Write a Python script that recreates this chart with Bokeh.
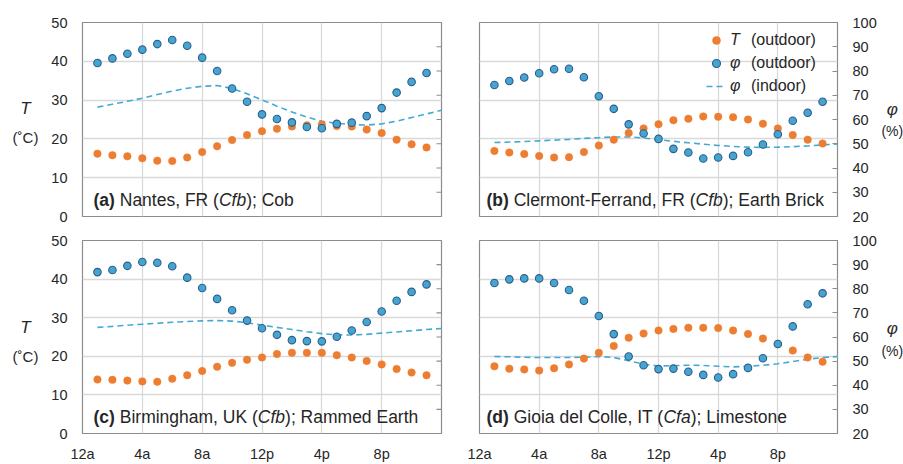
from bokeh.plotting import figure
from bokeh.models import Range1d, LinearAxis, FixedTicker, Label, Legend, LegendItem
from bokeh.core.properties import value
from bokeh.layouts import column, row
from bokeh.embed import file_html
from bokeh.resources import INLINE

# ---------------- data ----------------
hours = [1, 2, 3, 4, 5, 6, 7, 8, 9, 10, 11, 12, 13, 14, 15, 16, 17, 18, 19, 20, 21, 22, 23]
hours_in = [1, 2, 3, 4, 5, 6, 7, 8, 9, 10, 11, 12, 13, 14, 15, 16, 17, 18, 19, 20, 21, 22, 23, 24]

a_T = [16.2, 15.8, 15.5, 15.0, 14.4, 14.3, 15.2, 16.6, 18.1, 19.7, 21.0, 22.0, 22.6, 23.2, 23.5, 23.7,
       23.3, 23.2, 22.4, 21.5, 19.8, 18.6, 17.8]
a_phi = [83.3, 85.2, 87.1, 88.8, 91.1, 92.8, 90.4, 85.5, 80.0, 72.8, 67.3, 62.1, 60.2, 58.8, 56.9, 56.4,
         58.2, 58.7, 61.4, 64.7, 71.1, 75.5, 79.2]
a_phi_in = [65.1, 66.3, 67.5, 68.8, 70.3, 71.7, 72.9, 73.7, 74.0, 72.8, 70.6, 68.1, 65.5, 63.1, 61.0, 59.3,
            58.4, 57.9, 57.7, 58.2, 59.3, 60.8, 62.3, 63.8]

b_T = [16.9, 16.5, 16.1, 15.6, 15.2, 15.3, 16.6, 18.3, 19.8, 21.5, 22.7, 23.8, 24.8, 25.2, 25.8, 25.7,
       25.6, 25.0, 23.9, 22.7, 21.0, 19.8, 18.8]
b_phi = [74.2, 75.9, 77.3, 79.1, 80.7, 80.9, 77.4, 69.6, 64.4, 58.0, 54.2, 52.0, 47.9, 46.4, 43.9, 44.3,
         45.0, 46.5, 49.7, 53.9, 59.5, 62.8, 67.3]
b_phi_in = [50.5, 50.7, 50.9, 51.2, 51.5, 51.8, 52.2, 52.5, 52.8, 52.8, 52.4, 51.7, 51.0, 50.4, 49.8, 49.3,
            48.9, 48.6, 48.5, 48.6, 48.8, 49.1, 49.5, 49.9]

c_T = [14.0, 13.9, 13.7, 13.5, 13.4, 14.2, 15.1, 16.2, 17.3, 18.3, 19.1, 19.7, 20.6, 20.9, 20.9, 20.9,
       20.3, 19.7, 18.8, 17.9, 16.7, 15.8, 15.1]
c_phi = [86.9, 87.8, 89.5, 91.1, 90.8, 89.3, 84.6, 80.3, 75.8, 71.1, 66.8, 63.6, 60.9, 58.7, 58.3, 58.2,
         60.1, 62.7, 66.2, 70.6, 75.0, 78.7, 81.8]
c_phi_in = [64.0, 64.4, 64.9, 65.3, 65.7, 66.1, 66.4, 66.7, 66.8, 66.6, 65.9, 64.9, 64.0, 63.1, 62.2, 61.4,
            60.9, 60.8, 61.1, 61.6, 62.1, 62.6, 63.1, 63.5]

d_T = [17.4, 16.8, 16.6, 16.3, 16.9, 17.9, 19.4, 20.9, 22.7, 24.8, 25.9, 26.7, 27.1, 27.4, 27.4, 27.3,
       26.7, 25.8, 24.6, 23.2, 21.5, 19.7, 18.6]
d_phi = [82.4, 83.9, 84.3, 84.3, 82.4, 79.5, 75.0, 68.7, 61.2, 51.9, 48.3, 46.7, 46.9, 45.6, 44.3, 43.2,
         44.6, 47.2, 51.2, 57.1, 64.4, 73.6, 78.1]
d_phi_in = [51.9, 51.8, 51.6, 51.5, 51.5, 51.5, 51.6, 51.9, 51.5, 50.2, 48.7, 48.0, 48.1, 48.3, 48.2, 47.9,
            47.6, 47.9, 48.3, 48.9, 49.8, 50.8, 51.5, 51.9]

x_ticks = [0, 4, 8, 12, 16, 20]
x_tick_labels = ["12a", "4a", "8a", "12p", "4p", "8p"]
x_grid = [4, 8, 12, 16, 20]
T_ticks = [0, 10, 20, 30, 40, 50]
T_grid = [10, 20, 30, 40]
phi_ticks = [20, 30, 40, 50, 60, 70, 80, 90, 100]

titles = {
    "a": [("(a)", "bold"), (" Nantes, FR (", "normal"), ("Cfb", "italic"), ("); Cob", "normal")],
    "b": [("(b)", "bold"), (" Clermont-Ferrand, FR (", "normal"), ("Cfb", "italic"), ("); Earth Brick", "normal")],
    "c": [("(c)", "bold"), (" Birmingham, UK (", "normal"), ("Cfb", "italic"), ("); Rammed Earth", "normal")],
    "d": [("(d)", "bold"), (" Gioia del Colle, IT (", "normal"), ("Cfa", "italic"), ("); Limestone", "normal")],
}
legend_symbols = ["T", "φ", "φ"]
legend_texts = ["(outdoor)", "(outdoor)", "(indoor)"]
left_title = ["T", "(˚C)"]
right_title = ["φ", "(%)"]

# ---------------- style ----------------
FONT = "Liberation Sans"
ORANGE = "#ED7D31"
BLUE_FILL = "#45A5CE"
BLUE_LINE = "#2C5D8F"
DASH = "#45AAD3"
GRID = "#D9D9D9"
FRAME = "#8C8C8C"
TXT = "#262626"

# Arial / Liberation Sans advance widths (1/1000 em)
W_REG = {" ": 278, "(": 333, ")": 333, ",": 278, "-": 333, ";": 278,
         "B": 667, "C": 722, "E": 667, "F": 611, "G": 778, "I": 278, "K": 667, "L": 556, "N": 722,
         "R": 722, "T": 611, "U": 722,
         "a": 556, "b": 556, "c": 500, "d": 556, "e": 556, "f": 278, "g": 556, "h": 556, "i": 222,
         "k": 500, "l": 222, "m": 833, "n": 556, "o": 556, "r": 333, "s": 500, "t": 278, "u": 556}
W_BOLD = {"(": 333, ")": 333, "a": 556, "b": 611, "c": 556, "d": 611}


def text_width(s, size, bold=False):
    total = 0
    for ch in s:
        if bold and ch in W_BOLD:
            total += W_BOLD[ch]
        else:
            total += W_REG.get(ch, 556)
    return total * size / 1000.0


LABEL_SIZE = 17.5
LEFT_STRIP = 45
RIGHT_STRIP = 23


def make_panel(T, phi, phi_in, parts, col, rw, with_legend=False):
    W = 415 if col == 0 else 420
    H = 228 if rw == 0 else 236
    mbl, mbr = (37, 19) if col == 0 else (19, 43)
    mbt, mbb = (22, 12) if rw == 0 else (12, 30)
    p = figure(width=W, height=H, x_range=Range1d(0, 24), y_range=Range1d(0, 50),
               output_backend="svg", toolbar_location=None,
               x_axis_location=("below" if rw == 1 else None),
               y_axis_location=("left" if col == 0 else None),
               min_border_left=mbl, min_border_right=mbr, min_border_top=mbt, min_border_bottom=mbb)
    p.extra_y_ranges = {"phi": Range1d(20, 100)}
    p.background_fill_color = "white"
    p.border_fill_color = "white"
    p.outline_line_color = FRAME
    p.outline_line_width = 1.2

    p.xgrid.ticker = FixedTicker(ticks=x_grid)
    p.ygrid.ticker = FixedTicker(ticks=T_grid)
    p.xgrid.grid_line_color = GRID
    p.ygrid.grid_line_color = GRID
    p.xgrid.grid_line_width = 1.3
    p.ygrid.grid_line_width = 1.3

    if rw == 1:
        xa = p.xaxis[0]
        xa.ticker = FixedTicker(ticks=x_ticks)
        xa.major_label_overrides = dict(zip(x_ticks, x_tick_labels))
        xa.major_tick_in = 0
        xa.major_tick_out = 0
        xa.minor_tick_line_color = None
        xa.axis_line_color = None
        xa.major_label_standoff = 12
        xa.major_label_text_font = FONT
        xa.major_label_text_font_size = "14.5px"
        xa.major_label_text_color = TXT
    if col == 0:
        ya = p.yaxis[0]
        ya.ticker = FixedTicker(ticks=T_ticks)
        ya.major_tick_in = 0
        ya.major_tick_out = 0
        ya.minor_tick_line_color = None
        ya.axis_line_color = None
        ya.major_label_standoff = 15
        ya.major_label_text_font = FONT
        ya.major_label_text_font_size = "14.5px"
        ya.major_label_text_color = TXT
        # inward secondary-axis tick marks (no labels on the left panels)
        p.scatter([24] * len(phi_ticks), phi_ticks, y_range_name="phi", marker="dash", size=10,
                  line_color=FRAME, line_width=1.1)
    else:
        ra = LinearAxis(y_range_name="phi", ticker=FixedTicker(ticks=phi_ticks),
                        major_tick_in=5, major_tick_out=0, minor_tick_line_color=None,
                        axis_line_color=None, major_tick_line_color=FRAME,
                        major_label_text_font=FONT, major_label_text_color=TXT,
                        major_label_text_font_size="14.5px", major_label_standoff=15)
        p.add_layout(ra, "right")

    r_in = p.line(hours_in, phi_in, y_range_name="phi", line_color=DASH, line_width=1.6, line_dash="6 4")
    r_T = p.scatter(hours, T, size=7.5, fill_color=ORANGE, line_color=ORANGE, line_width=0.5)
    r_phi = p.scatter(hours, phi, y_range_name="phi", size=7.5, fill_color=BLUE_FILL,
                      line_color=BLUE_LINE, line_width=1.1)

    # panel caption (mixed bold / normal / italic pieces)
    x_off = 11 if col == 0 else 7
    for txt, style in parts:
        lead = len(txt) - len(txt.lstrip(" "))
        draw_x = x_off + text_width(" " * lead, LABEL_SIZE)
        p.add_layout(Label(x=0, y=0, x_offset=draw_x, y_offset=17, text=txt.strip(),
                           text_font=FONT, text_font_size=f"{LABEL_SIZE}px", text_font_style=style,
                           text_color=TXT, text_baseline="middle", text_align="left"))
        x_off += text_width(txt, LABEL_SIZE, bold=(style == "bold"))

    if with_legend:
        rends = [r_T, r_phi, r_in]
        leg_a = Legend(items=[LegendItem(label=value(s), renderers=[r]) for s, r in zip(legend_symbols, rends)],
                       location=(227, 120), orientation="vertical", glyph_width=20, glyph_height=20,
                       label_height=20, label_width=8, spacing=3, padding=0, margin=0, label_standoff=4,
                       label_text_font=FONT, label_text_font_size="16px", label_text_font_style="italic",
                       label_text_color=TXT, background_fill_alpha=0, border_line_color=None)
        leg_b = Legend(items=[LegendItem(label=value(s), renderers=[r]) for s, r in zip(legend_texts, rends)],
                       location=(272, 120), orientation="vertical", glyph_width=0, glyph_height=20,
                       label_height=20, label_width=8, spacing=3, padding=0, margin=0, label_standoff=0,
                       label_text_font=FONT, label_text_font_size="16px", label_text_font_style="normal",
                       label_text_color=TXT, background_fill_alpha=0, border_line_color=None)
        p.add_layout(leg_a)
        p.add_layout(leg_b)
    return p


def make_strip(width, texts, x_center, sym_size, unit_size, rows):
    # narrow figure whose data coordinates are pixels (y measured from the top)
    s = figure(width=width, height=464, x_range=Range1d(0, width), y_range=Range1d(464, 0),
               output_backend="svg", toolbar_location=None,
               x_axis_location=None, y_axis_location=None,
               min_border_left=0, min_border_right=0, min_border_top=0, min_border_bottom=0)
    s.outline_line_color = None
    s.xgrid.visible = False
    s.ygrid.visible = False
    s.background_fill_color = "white"
    s.border_fill_color = "white"
    for y_sym, y_unit in rows:
        s.add_layout(Label(x=x_center, y=y_sym, text=texts[0], text_font=FONT,
                           text_font_size=sym_size, text_font_style="italic", text_color=TXT,
                           text_align="center", text_baseline="middle"))
        s.add_layout(Label(x=x_center, y=y_unit, text=texts[1], text_font=FONT,
                           text_font_size=unit_size, text_color=TXT,
                           text_align="center", text_baseline="middle"))
    return s


pa = make_panel(a_T, a_phi, a_phi_in, titles["a"], 0, 0)
pb = make_panel(b_T, b_phi, b_phi_in, titles["b"], 1, 0, with_legend=True)
pc = make_panel(c_T, c_phi, c_phi_in, titles["c"], 0, 1)
pd = make_panel(d_T, d_phi, d_phi_in, titles["d"], 1, 1)

left_strip = make_strip(LEFT_STRIP, left_title, 25, "17px", "15px", [(108, 137), (327, 356)])
right_strip = make_strip(RIGHT_STRIP, right_title, 11.8, "17px", "14px", [(109, 130), (328, 350)])

layout = row(left_strip, column(row(pa, pb), row(pc, pd)), right_strip)
open("out.html", "w").write(file_html(layout, INLINE))
